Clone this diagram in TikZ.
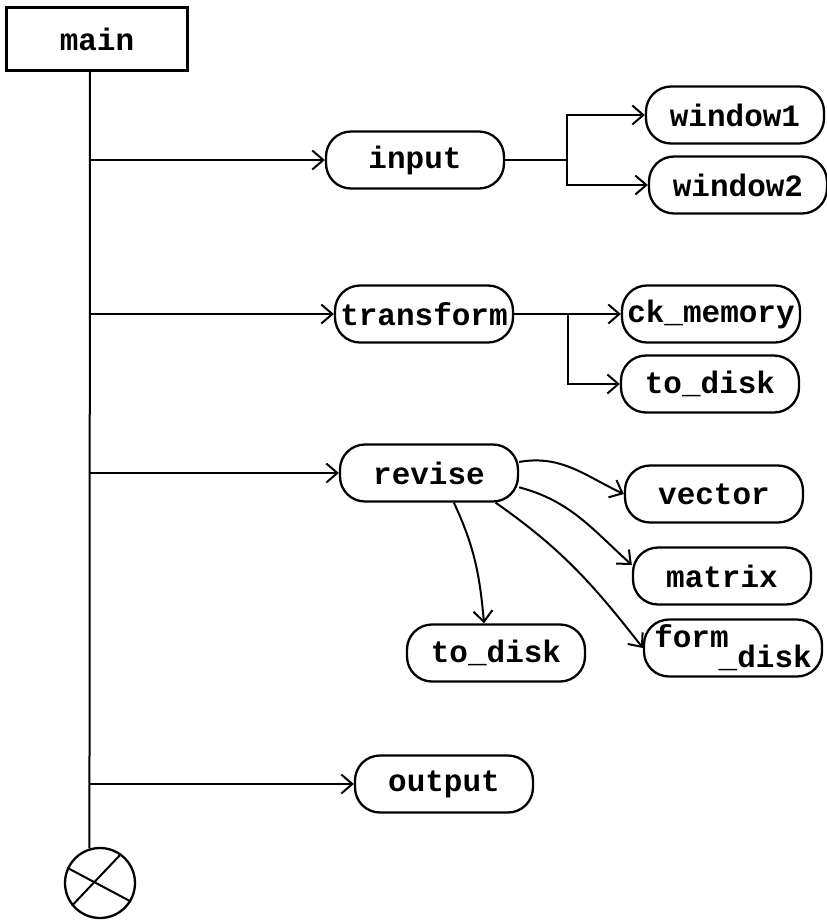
\documentclass[tikz,border=0pt]{standalone}
\usepackage{fontspec}
\setmonofont{Liberation Mono}
\usetikzlibrary{arrows.meta,calc}
\begin{document}
\begin{tikzpicture}[x=1pt,y=-1pt,
  every node/.style={font=\fontsize{31}{31}\selectfont\ttfamily\bfseries},
  proc/.style={draw, line width=2.3pt, rounded corners=25pt, minimum width=178pt, minimum height=57pt, inner sep=0pt},
  link/.style={line width=2pt},
  arr/.style={link, -{Straight Barb[length=11pt,width=19pt,line width=2pt]}}]
\fill[white] (0,0) rectangle (827,922);
\path[use as bounding box] (0,0) rectangle (827,922);

\node[draw, line width=2.3pt, minimum width=181pt, minimum height=63pt, inner sep=0pt] (main) at (97,39) {main};

\node[proc] (input) at (415,160) {input};
\node[proc] (window1) at (735,115) {window1};
\node[proc] (window2) at (738,185) {window2};

\node[proc] (transform) at (424,314) {transform};
\node[proc] (ck) at (711,314) {ck\_memory};
\node[proc] (todiskA) at (710,384) {to\_disk};

\node[proc] (revise) at (429,473) {revise};
\node[proc] (vector) at (714,494) {vector};
\node[proc] (matrix) at (722,576) {matrix};
\node[proc] (formdisk) at (733,648) {\raisebox{10pt}{form}\hspace{-10pt}\raisebox{-10pt}{\_disk}};
\node[proc] (todiskB) at (496,653) {to\_disk};

\node[proc] (output) at (444,784) {output};

\node[draw, circle, line width=2.3pt, minimum size=70pt, inner sep=0pt] (c) at (100,883) {};

\coordinate (spineX) at (90,0);
\draw[link] (main.south -| spineX) -- (c.107);
\draw[link] (c.155) -- (c.-31);
\draw[link] (c.219) -- (c.54);

\draw[arr] (input.west -| spineX) -- (input.west);
\draw[arr] (transform.west -| spineX) -- (transform.west);
\draw[arr] (revise.west -| spineX) -- (revise.west);
\draw[arr] (output.west -| spineX) -- (output.west);

\coordinate (j1) at (567,160);
\draw[link] (input.east) -- (j1);
\draw[arr] (j1) |- (window1.west);
\draw[arr] (j1) |- (window2.west);

\coordinate (j2) at (568,314);
\draw[arr] (transform.east) -- (ck.west);
\draw[arr] (j2) |- (todiskA.west);

\draw[arr] (revise.7) to[out=10, in=155] (vector.west);
\draw[arr] (revise.-9) to[out=-15, in=138] (matrix.173);
\draw[arr] (revise.-24) to[out=-35, in=128] (formdisk.west);
\draw[arr] (revise.-50) to[out=-65, in=95] (todiskB.112);
\end{tikzpicture}
\end{document}
